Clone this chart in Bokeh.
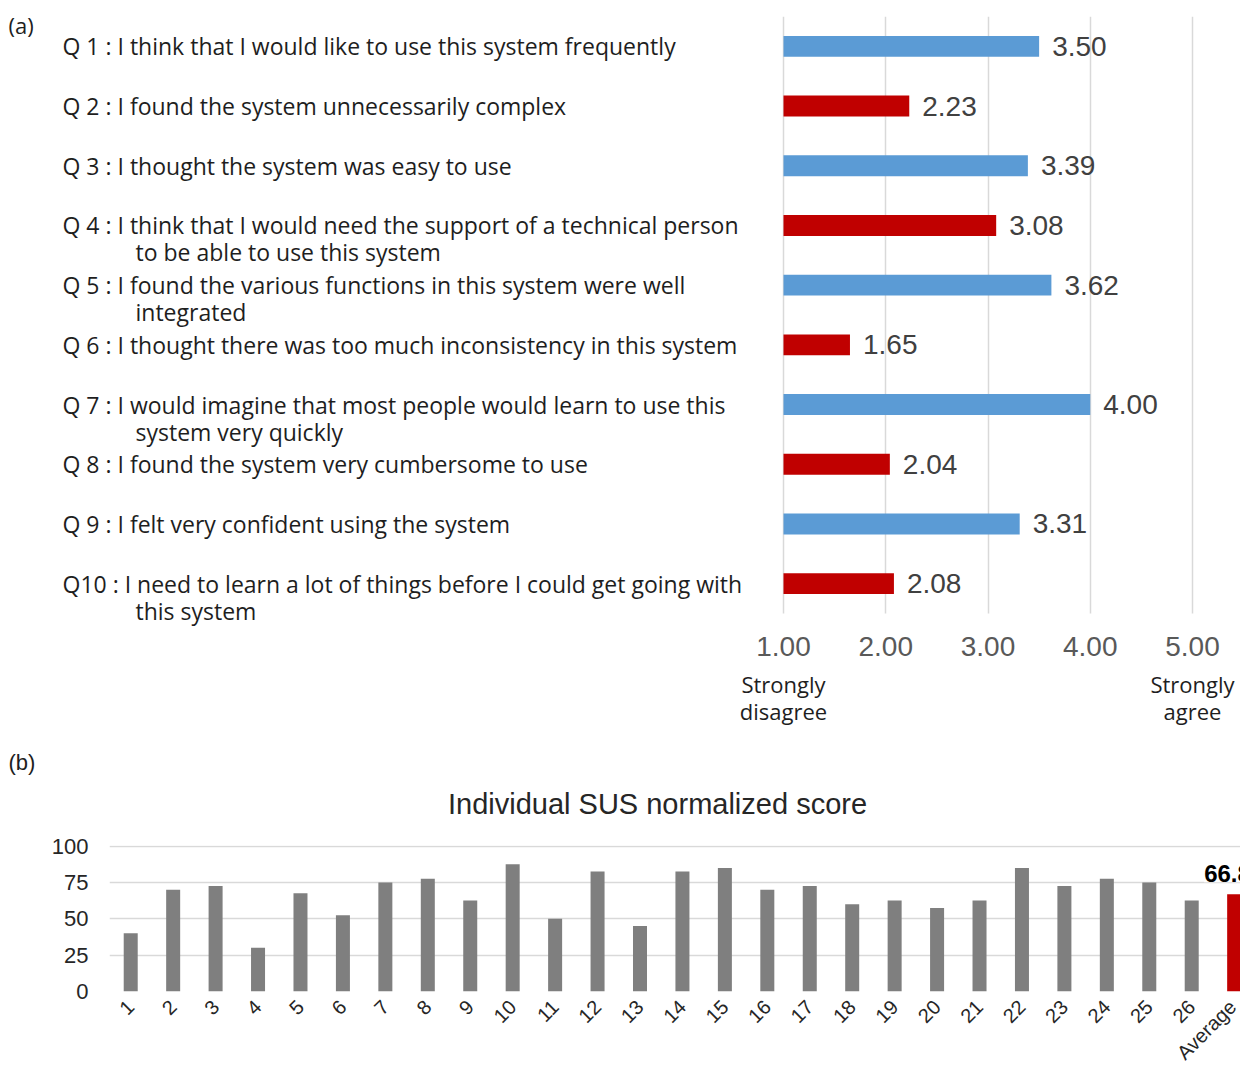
import math

from bokeh.core.properties import value
from bokeh.embed import file_html
from bokeh.models import (ColumnDataSource, FixedTicker, Grid, LinearAxis,
                          NumeralTickFormatter, Range1d)
from bokeh.plotting import figure
from bokeh.resources import INLINE

# ---------------- (a) mean response per SUS item ----------------
question_ids = ["Q 1", "Q 2", "Q 3", "Q 4", "Q 5", "Q 6", "Q 7", "Q 8", "Q 9", "Q10"]
question_first_lines = [
    "I think that I would like to use this system frequently",
    "I found the system unnecessarily complex",
    "I thought the system was easy to use",
    "I think that I would need the support of a technical person",
    "I found the various functions in this system were well",
    "I thought there was too much inconsistency in this system",
    "I would imagine that most people would learn to use this",
    "I found the system very cumbersome to use",
    "I felt very confident using the system",
    "I need to learn a lot of things before I could get going with",
]
question_second_lines = [
    "",
    "",
    "",
    "to be able to use this system",
    "integrated",
    "",
    "system very quickly",
    "",
    "",
    "this system",
]
item_means = [3.50, 2.23, 3.39, 3.08, 3.62, 1.65, 4.00, 2.04, 3.31, 2.08]
scale_ticks = [1, 2, 3, 4, 5]
scale_anchor_labels = {1: "Strongly\ndisagree", 5: "Strongly\nagree"}

# ---------------- (b) individual normalized SUS scores ----------------
participants = [str(i) for i in range(1, 27)] + ["Average"]
participant_scores = [40, 70, 72.5, 30, 67.5, 52.5, 75, 77.5, 62.5, 87.5,
                      50, 82.5, 45, 82.5, 85, 70, 72.5, 60, 62.5, 57.5,
                      62.5, 85, 72.5, 77.5, 75, 62.5]
average_score = 66.83
score_ticks = [0, 25, 50, 75, 100]

BLUE = "#5B9BD5"
RED = "#C00000"
GREY_BAR = "#7F7F7F"
GRID = "#D9D9D9"
TEXT_DARK = "#1E1E1E"
TEXT_GREY = "#595959"
Q_FONT = value("Open Sans")
NUM_FONT = value("Liberation Sans")

PAGE_W = 1240

# ---- panel (a): horizontal bars on a 1-5 agreement scale ----
px_per_unit = 102.25          # pixels between two scale points
scale_origin_px = 783         # where the 1.00 line sits
x_start = 1 - scale_origin_px / px_per_unit
x_end = x_start + PAGE_W / px_per_unit

row_px = 59.7                 # vertical distance between two items
frame_top = 16
frame_h = 611
rows = list(range(len(question_ids)))     # Q1 on top

p_a = figure(width=PAGE_W, height=740,
             x_range=Range1d(x_start, x_end),
             y_range=Range1d(-0.5 + frame_h / row_px, -0.5),
             output_backend="svg", toolbar_location=None,
             x_axis_location="below", y_axis_location=None,
             min_border_left=0, min_border_right=0,
             min_border_top=frame_top, min_border_bottom=740 - frame_top - frame_h)
p_a.outline_line_color = None
for g in p_a.grid:
    g.visible = False
p_a.add_layout(Grid(dimension=0, ticker=FixedTicker(ticks=scale_ticks),
                    cross_bounds=(-0.5, len(rows) - 0.5),
                    grid_line_color=GRID, grid_line_width=1.5))

bar_colors = [BLUE if i % 2 == 0 else RED for i in range(len(item_means))]
src_a = ColumnDataSource(dict(
    row=rows,
    mean=item_means,
    color=bar_colors,
    label=[f"{m:.2f}" for m in item_means],
    first=[f"{q} : {t}" for q, t in zip(question_ids, question_first_lines)],
))
p_a.hbar(y="row", left=1, right="mean", height=0.35, fill_color="color",
         line_color=None, source=src_a)
p_a.text(x="mean", y="row", text="label", source=src_a, x_offset=13,
         text_baseline="middle", text_align="left", text_font=NUM_FONT,
         text_font_size="28px", text_color="#404040")

text_x1 = x_start + 62 / px_per_unit
text_x2 = x_start + 135 / px_per_unit
p_a.text(x=text_x1, y="row", text="first", source=src_a,
         text_baseline="middle", text_align="left", text_font=Q_FONT,
         text_font_size="23px", text_color=TEXT_DARK)

second_rows = [r for r, s in zip(rows, question_second_lines) if s]
second_txt = [s for s in question_second_lines if s]
src_a2 = ColumnDataSource(dict(row=second_rows, txt=second_txt))
p_a.text(x=text_x2, y="row", text="txt", source=src_a2, y_offset=27,
         text_baseline="middle", text_align="left", text_font=Q_FONT,
         text_font_size="23px", text_color=TEXT_DARK)

p_a.text(x=x_start + 8 / px_per_unit, y=[rows[0]], text=["(a)"],
         y_offset=-21, text_baseline="middle", text_align="left",
         text_font=Q_FONT, text_font_size="22px", text_color=TEXT_DARK)

ax = p_a.xaxis[0]
ax.ticker = FixedTicker(ticks=scale_ticks)
ax.formatter = NumeralTickFormatter(format="0.00")
ax.axis_line_color = None
ax.major_tick_line_color = None
ax.minor_tick_line_color = None
ax.major_label_standoff = 3
ax.major_label_text_font = "Liberation Sans"
ax.major_label_text_font_size = "28px"
ax.major_label_text_color = TEXT_GREY

anchor_axis = LinearAxis(ticker=FixedTicker(ticks=list(scale_anchor_labels)),
                         major_label_overrides=scale_anchor_labels,
                         axis_line_color=None, major_tick_line_color=None,
                         minor_tick_line_color=None, major_label_standoff=4,
                         major_label_text_font="Open Sans",
                         major_label_text_font_size="22px",
                         major_label_text_line_height=0.92,
                         major_label_text_color=TEXT_DARK)
p_a.add_layout(anchor_axis, "below")

# ---- header strip for panel (b) ----
p_h = figure(width=PAGE_W, height=90, x_range=Range1d(0, PAGE_W),
             y_range=Range1d(90, 0), output_backend="svg",
             toolbar_location=None, x_axis_location=None, y_axis_location=None,
             min_border_left=0, min_border_right=0, min_border_top=0,
             min_border_bottom=0)
p_h.outline_line_color = None
for g in p_h.grid:
    g.visible = False
p_h.text(x=[8], y=[22], text=["(b)"], text_baseline="middle",
         text_align="left", text_font=NUM_FONT, text_font_size="22px",
         text_color=TEXT_DARK)
p_h.text(x=[657], y=[63], text=["Individual SUS normalized score"],
         text_baseline="middle", text_align="center", text_font=NUM_FONT,
         text_font_size="29px", text_color="#262626")

# ---- panel (b): one bar per participant plus the mean ----
slot_px = 42.44
frame_left = 109
positions = list(range(1, len(participants) + 1))
x_b_end = 0.5 + (PAGE_W - frame_left) / slot_px

p_b = figure(width=PAGE_W, height=245, x_range=Range1d(0.5, x_b_end),
             y_range=Range1d(0, 100.4), output_backend="svg",
             toolbar_location=None,
             min_border_left=frame_left, min_border_right=0,
             min_border_top=15, min_border_bottom=84)
p_b.outline_line_color = None
p_b.xgrid.visible = False
p_b.ygrid.grid_line_color = GRID
p_b.ygrid.grid_line_width = 1.5
p_b.ygrid.ticker = FixedTicker(ticks=score_ticks)

all_scores = participant_scores + [average_score]
src_b = ColumnDataSource(dict(
    x=positions,
    top=all_scores,
    color=[GREY_BAR] * len(participant_scores) + [RED],
))
p_b.vbar(x="x", top="top", width=0.33, fill_color="color", line_color=None,
         source=src_b)
p_b.text(x=[positions[-1]], y=[average_score], text=[f"{average_score:.2f}"],
         y_offset=-12, text_align="center", text_baseline="bottom",
         text_font=NUM_FONT, text_font_style="bold", text_font_size="24px",
         text_color="black", background_fill_color="white")

yax = p_b.yaxis[0]
yax.ticker = FixedTicker(ticks=score_ticks)
yax.axis_line_color = None
yax.major_tick_line_color = None
yax.minor_tick_line_color = None
yax.major_label_standoff = 15
yax.major_label_text_font = "Liberation Sans"
yax.major_label_text_font_size = "22px"
yax.major_label_text_color = "#262626"

xax = p_b.xaxis[0]
xax.ticker = FixedTicker(ticks=positions)
xax.major_label_overrides = {p: n for p, n in zip(positions, participants)}
xax.axis_line_color = None
xax.major_tick_line_color = None
xax.minor_tick_line_color = None
xax.major_label_orientation = math.pi / 4
xax.major_label_standoff = 6
xax.major_label_text_font = "Liberation Sans"
xax.major_label_text_font_size = "20px"
xax.major_label_text_color = "#262626"

# three independent roots stacked on the page, so no frame alignment between them
open("out.html", "w").write(file_html((p_a, p_h, p_b), INLINE))
